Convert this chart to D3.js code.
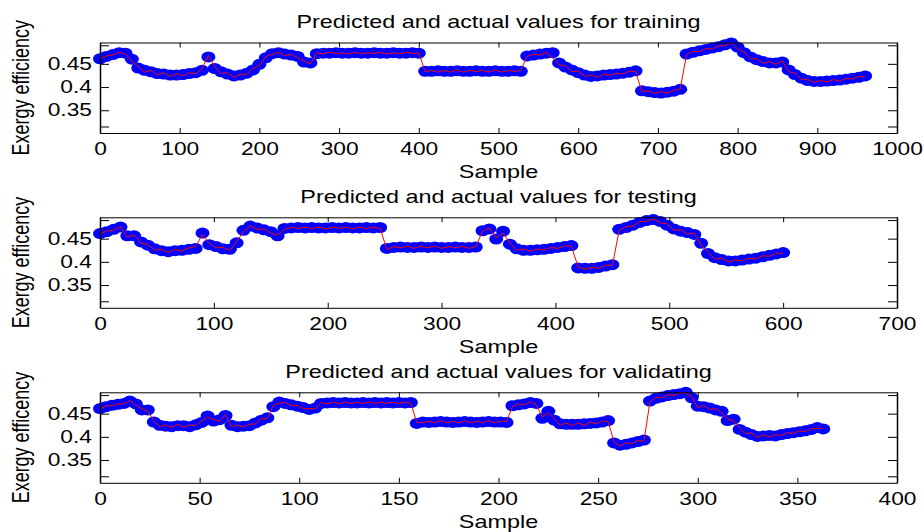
<!DOCTYPE html>
<html>
<head>
<meta charset="utf-8">
<title>Predicted and actual values</title>
<script src="https://cdn.jsdelivr.net/npm/d3@7/dist/d3.min.js"></script>
<style>
  html, body { margin: 0; padding: 0; background: #fff; }
  svg { display: block; font-family: "Liberation Sans", Arial, sans-serif; }
  .domain { stroke: #000; }
  .tick line { stroke: #000; }
</style>
</head>
<body>
<svg id="chart" width="924" height="532"></svg>
<script>
// ---- data (one value every `step` samples) ----
const trainStep = 8;
const trainActual = [
  0.461,0.466,0.470,0.474,0.473,0.460,0.441,0.436,0.433,0.429,
  0.428,0.426,0.426,0.427,0.429,0.431,0.436,0.465,0.440,0.433,
  0.428,0.424,0.426,0.430,0.437,0.449,0.463,0.472,0.474,0.471,
  0.469,0.466,0.454,0.452,0.472,0.473,0.473,0.474,0.473,0.473,
  0.474,0.473,0.473,0.474,0.473,0.473,0.474,0.473,0.473,0.474,
  0.473,0.434,0.434,0.435,0.434,0.434,0.435,0.434,0.434,0.435,
  0.434,0.434,0.435,0.434,0.434,0.435,0.434,0.467,0.469,0.471,
  0.473,0.474,0.452,0.443,0.437,0.431,0.426,0.423,0.424,0.426,
  0.427,0.428,0.430,0.432,0.435,0.392,0.390,0.388,0.387,0.389,
  0.391,0.395,0.471,0.475,0.478,0.481,0.484,0.487,0.491,0.495,
  0.486,0.474,0.465,0.459,0.455,0.452,0.452,0.454,0.437,0.427,
  0.419,0.414,0.412,0.412,0.413,0.414,0.415,0.417,0.419,0.421,
  0.424
];
const trainPredicted = [
  0.460,0.467,0.469,0.475,0.471,0.456,0.444,0.432,0.436,0.426,
  0.431,0.423,0.429,0.424,0.431,0.428,0.440,0.468,0.444,0.429,
  0.431,0.421,0.428,0.427,0.440,0.446,0.466,0.470,0.475,0.468,
  0.471,0.463,0.456,0.450,0.474,0.471,0.475,0.472,0.474,0.471,
  0.475,0.471,0.474,0.472,0.475,0.471,0.474,0.472,0.475,0.472,
  0.474,0.433,0.436,0.432,0.436,0.432,0.437,0.432,0.436,0.433,
  0.436,0.432,0.437,0.432,0.436,0.433,0.437,0.466,0.471,0.469,
  0.475,0.463,0.448,0.446,0.433,0.434,0.423,0.426,0.421,0.428,
  0.425,0.430,0.428,0.434,0.433,0.390,0.392,0.386,0.390,0.387,
  0.393,0.396,0.470,0.477,0.476,0.483,0.482,0.489,0.489,0.496,
  0.482,0.476,0.461,0.461,0.451,0.455,0.449,0.457,0.433,0.430,
  0.416,0.416,0.410,0.414,0.411,0.416,0.413,0.419,0.417,0.423,
  0.422
];

const testStep = 6;
const testActual = [
  0.461,0.465,0.470,0.475,0.456,0.456,0.443,0.436,0.428,0.424,
  0.422,0.424,0.425,0.427,0.429,0.462,0.437,0.433,0.428,0.427,
  0.441,0.468,0.477,0.473,0.469,0.465,0.456,0.472,0.473,0.474,
  0.473,0.474,0.473,0.473,0.474,0.473,0.474,0.473,0.473,0.474,
  0.473,0.474,0.429,0.431,0.432,0.431,0.431,0.432,0.431,0.432,
  0.431,0.431,0.432,0.431,0.431,0.432,0.467,0.471,0.449,0.466,
  0.438,0.428,0.425,0.425,0.426,0.427,0.429,0.431,0.433,0.435,
  0.387,0.386,0.386,0.388,0.391,0.394,0.470,0.474,0.479,0.485,
  0.489,0.491,0.487,0.479,0.471,0.466,0.463,0.459,0.440,0.418,
  0.409,0.405,0.402,0.402,0.404,0.406,0.408,0.411,0.414,0.417,
  0.420
];
const testPredicted = [
  0.460,0.467,0.468,0.476,0.453,0.458,0.440,0.438,0.425,0.427,
  0.420,0.427,0.423,0.430,0.433,0.459,0.440,0.430,0.431,0.424,
  0.444,0.465,0.478,0.470,0.471,0.462,0.458,0.470,0.475,0.472,
  0.475,0.472,0.475,0.471,0.475,0.472,0.475,0.471,0.475,0.472,
  0.475,0.472,0.427,0.433,0.430,0.434,0.429,0.434,0.430,0.434,
  0.429,0.433,0.430,0.434,0.429,0.433,0.466,0.473,0.452,0.462,
  0.441,0.425,0.428,0.423,0.428,0.425,0.431,0.429,0.435,0.433,
  0.389,0.384,0.388,0.386,0.393,0.392,0.468,0.476,0.477,0.487,
  0.487,0.493,0.484,0.482,0.468,0.469,0.460,0.462,0.436,0.421,
  0.406,0.408,0.400,0.404,0.402,0.408,0.406,0.413,0.412,0.419,
  0.418
];

const validStep = 3;
const validActual = [
  0.461,0.465,0.468,0.470,0.472,0.477,0.471,0.458,0.458,0.432,
  0.425,0.423,0.422,0.424,0.424,0.422,0.426,0.431,0.445,0.434,
  0.437,0.446,0.425,0.422,0.423,0.424,0.430,0.436,0.441,0.465,
  0.475,0.472,0.469,0.466,0.463,0.459,0.462,0.472,0.473,0.474,
  0.473,0.474,0.473,0.473,0.474,0.473,0.474,0.473,0.474,0.473,
  0.474,0.473,0.474,0.429,0.432,0.431,0.432,0.433,0.432,0.431,
  0.432,0.433,0.432,0.431,0.432,0.433,0.432,0.432,0.431,0.467,
  0.469,0.471,0.474,0.472,0.440,0.455,0.436,0.428,0.427,0.427,
  0.427,0.428,0.429,0.430,0.432,0.435,0.387,0.382,0.384,0.387,
  0.390,0.393,0.477,0.483,0.486,0.489,0.491,0.493,0.496,0.484,
  0.466,0.465,0.462,0.458,0.455,0.435,0.438,0.416,0.410,0.405,
  0.401,0.402,0.403,0.402,0.405,0.407,0.409,0.411,0.413,0.416,
  0.420,0.417
];
const validPredicted = [
  0.460,0.467,0.467,0.471,0.471,0.478,0.468,0.461,0.455,0.435,
  0.422,0.426,0.420,0.427,0.421,0.425,0.424,0.434,0.443,0.437,
  0.434,0.448,0.422,0.425,0.421,0.427,0.428,0.439,0.439,0.468,
  0.473,0.474,0.467,0.468,0.461,0.461,0.460,0.474,0.471,0.475,
  0.471,0.475,0.472,0.475,0.472,0.475,0.472,0.475,0.472,0.475,
  0.472,0.475,0.472,0.431,0.430,0.434,0.430,0.435,0.430,0.434,
  0.430,0.435,0.430,0.434,0.430,0.435,0.430,0.434,0.433,0.465,
  0.471,0.469,0.476,0.469,0.443,0.452,0.439,0.425,0.430,0.424,
  0.430,0.425,0.432,0.428,0.434,0.433,0.389,0.380,0.387,0.385,
  0.392,0.391,0.475,0.485,0.484,0.491,0.489,0.495,0.494,0.487,
  0.463,0.468,0.459,0.461,0.452,0.438,0.435,0.419,0.407,0.408,
  0.399,0.404,0.400,0.405,0.403,0.409,0.407,0.413,0.411,0.418,
  0.418,0.419
];

// axis ticks
const trainXTicks = [0, 100, 200, 300, 400, 500, 600, 700, 800, 900, 1000];
const testXTicks = [0, 100, 200, 300, 400, 500, 600, 700];
const validXTicks = [0, 50, 100, 150, 200, 250, 300, 350, 400];
const yTicks = [0.315, 0.35, 0.4, 0.45, 0.49];
const yTickLabels = { 0.35: "0.35", 0.4: "0.4", 0.45: "0.45" };

const panels = [
  { title: "Predicted and actual values for training", ylabel: "Exergy efficiency",
    actual: trainActual, predicted: trainPredicted, step: trainStep, xTicks: trainXTicks, top: 42.5 },
  { title: "Predicted and actual values for testing", ylabel: "Exergy efficency",
    actual: testActual, predicted: testPredicted, step: testStep, xTicks: testXTicks, top: 217.3 },
  { title: "Predicted and actual values for validating", ylabel: "Exergy efficency",
    actual: validActual, predicted: validPredicted, step: validStep, xTicks: validXTicks, top: 392.3 }
];

// ---- layout ----
const left = 100, right = 897, plotH = 90.5;
const SX = 1.3;  // figure is stretched horizontally
const svg = d3.select("#chart");

panels.forEach(p => {
  const top = p.top, bottom = top + plotH;
  const x = d3.scaleLinear().domain([0, d3.max(p.xTicks)]).range([left, right]);
  const y = d3.scaleLinear().domain([0.301, 0.496]).range([bottom, top]);
  const g = svg.append("g");

  // actual values: blue markers
  g.append("g").selectAll("ellipse")
    .data(p.actual)
    .join("ellipse")
    .attr("cx", (d, i) => x(i * p.step))
    .attr("cy", d => y(d))
    .attr("rx", 7)
    .attr("ry", 5.5)
    .attr("fill", "#0000ff");

  // predicted values: red line
  const line = d3.line().x((d, i) => x(i * p.step)).y(d => y(d));
  g.append("path")
    .datum(p.predicted)
    .attr("d", line)
    .attr("fill", "none")
    .attr("stroke", "#ff0000")
    .attr("stroke-width", 1);

  // axes
  g.append("g").attr("transform", `translate(0,${bottom})`)
    .call(d3.axisBottom(x).tickValues(p.xTicks).tickSizeInner(-5).tickSizeOuter(0)
      .tickPadding(9.5).tickFormat(d3.format("d")));
  g.append("g").attr("transform", `translate(0,${top})`)
    .call(d3.axisTop(x).tickValues(p.xTicks).tickSizeInner(-5).tickSizeOuter(0).tickFormat(""));
  const yl = g.append("g").attr("transform", `translate(${left},0)`)
    .call(d3.axisLeft(y).tickValues(yTicks).tickSizeInner(-9).tickSizeOuter(0).tickPadding(6.2)
      .tickFormat(d => yTickLabels[d] || ""));
  const yr = g.append("g").attr("transform", `translate(${right},0)`)
    .call(d3.axisRight(y).tickValues(yTicks).tickSizeInner(-9).tickSizeOuter(0).tickFormat(""));
  yl.select(".domain").attr("stroke-width", 1.5);
  yr.select(".domain").attr("stroke-width", 1.5);

  g.selectAll(".tick text")
    .attr("font-size", 17.5)
    .attr("font-family", "'Liberation Sans', Arial, sans-serif")
    .attr("fill", "#000")
    .attr("transform", `scale(${SX},1)`);

  // titles and labels
  const cx = (left + right) / 2;
  g.append("text")
    .attr("transform", `translate(${cx},${top - 14.5}) scale(${SX},1)`)
    .attr("text-anchor", "middle")
    .attr("font-size", 18)
    .text(p.title);
  g.append("text")
    .attr("transform", `translate(${cx},${bottom + 45}) scale(${SX},1)`)
    .attr("text-anchor", "middle")
    .attr("font-size", 18)
    .text("Sample");
  g.append("text")
    .attr("transform", `translate(29,${(top + bottom) / 2}) scale(${SX},1) rotate(-90)`)
    .attr("text-anchor", "middle")
    .attr("font-size", 18)
    .text(p.ylabel);
});
</script>
</body>
</html>
